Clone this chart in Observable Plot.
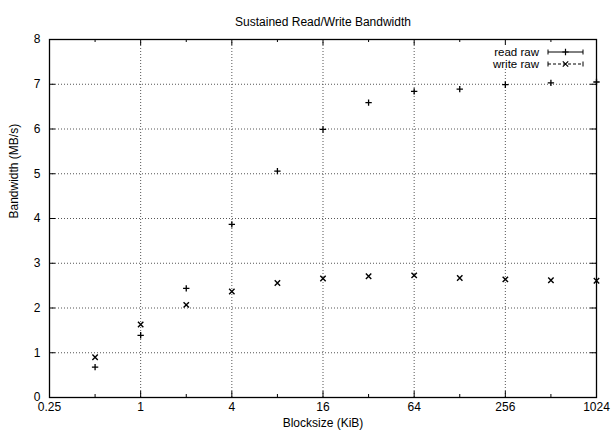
<!DOCTYPE html>
<html><head><meta charset="utf-8">
<script src="https://cdn.jsdelivr.net/npm/d3@7"></script>
<script src="https://cdn.jsdelivr.net/npm/@observablehq/plot@0.6"></script>
<style>body{margin:0;background:#fff}</style>
</head><body><div id="chart"></div>
<script>
const blocksizes = [0.5, 1, 2, 4, 8, 16, 32, 64, 128, 256, 512, 1024];
const readRaw  = [0.68, 1.39, 2.44, 3.87, 5.06, 5.99, 6.59, 6.84, 6.89, 6.99, 7.03, 7.05];
const writeRaw = [0.90, 1.63, 2.07, 2.37, 2.56, 2.66, 2.71, 2.73, 2.67, 2.64, 2.62, 2.61];
const xTicks = [0.25, 1, 4, 16, 64, 256, 1024];
const xMinorTicks = [0.5, 2, 8, 32, 128, 512];
const yTicks = [0, 1, 2, 3, 4, 5, 6, 7, 8];
const title = "Sustained Read/Write Bandwidth";
const xLabel = "Blocksize (KiB)";
const yLabel = "Bandwidth (MB/s)";
const seriesNames = ["read raw", "write raw"];

const FONT = "'Liberation Sans', Arial, Helvetica, sans-serif";
const W = 611, H = 432, mL = 49, mR = 15, mT = 39, mB = 35;
const iw = W - mL - mR, ih = H - mT - mB;
const rows = blocksizes.map((b, i) => ({b, read: readRaw[i], write: writeRaw[i]}));
const gridStyle = {stroke: "#555", strokeOpacity: 1, strokeDasharray: "1,2", strokeWidth: 1};

function legendBlank(index, scales, values, dims) {
  const right = dims.width - dims.marginRight;
  const g = d3.create("svg:g");
  g.append("rect").attr("x", right - 108).attr("y", dims.marginTop + 1)
    .attr("width", 106).attr("height", 29).attr("fill", "white");
  return g.node();
}

function legend(index, scales, values, dims) {
  const right = dims.width - dims.marginRight;
  const top = dims.marginTop;
  const g = d3.create("svg:g").attr("font-family", FONT).attr("font-size", 11.5).attr("fill", "black");
  const syms = [d3.symbol(d3.symbolPlus, 15.3), d3.symbol(d3.symbolTimes, 20.7)];
  seriesNames.forEach((name, i) => {
    const y = top + 13 + i * 12;
    g.append("text").attr("x", right - 57).attr("y", y).attr("dy", "0.32em")
      .attr("text-anchor", "end").text(name);
    const x1 = right - 48, x2 = right - 13, xc = (x1 + x2) / 2;
    const s = g.append("g").attr("stroke", "black").attr("fill", "none").attr("stroke-width", 1);
    s.append("line").attr("x1", x1).attr("x2", x2).attr("y1", y).attr("y2", y)
      .attr("stroke-dasharray", i === 1 ? "3,2" : null);
    s.append("line").attr("x1", x1).attr("x2", x1).attr("y1", y - 2.5).attr("y2", y + 2.5);
    s.append("line").attr("x1", x2).attr("x2", x2).attr("y1", y - 2.5).attr("y2", y + 2.5);
    s.append("path").attr("d", syms[i]()).attr("transform", `translate(${xc},${y})`)
      .attr("stroke-width", 1.2).attr("fill", "white");
  });
  return g.node();
}

const chart = Plot.plot({
  width: W, height: H,
  marginLeft: mL, marginRight: mR, marginTop: mT, marginBottom: mB,
  style: {fontFamily: FONT, fontSize: "12px", background: "white", color: "black", overflow: "visible"},
  x: {type: "log", base: 2, domain: [0.25, 1024], ticks: xTicks, tickFormat: d => String(d), tickSize: 0, tickPadding: 5, label: null},
  y: {domain: [0, 8], ticks: yTicks, tickSize: 0, tickPadding: 9, label: null},
  marks: [
    Plot.ruleX(xTicks.slice(1, -1), gridStyle),
    Plot.ruleY(yTicks.slice(1, -1), gridStyle),
    legendBlank,
    Plot.tickX(xTicks, {x: d => d, insetTop: ih - 6, stroke: "black"}),
    Plot.tickX(xTicks, {x: d => d, insetBottom: ih - 6, stroke: "black"}),
    Plot.tickX(xMinorTicks, {x: d => d, insetTop: ih - 3, stroke: "black"}),
    Plot.tickX(xMinorTicks, {x: d => d, insetBottom: ih - 3, stroke: "black"}),
    Plot.tickY(yTicks, {y: d => d, insetRight: iw - 6, stroke: "black"}),
    Plot.tickY(yTicks, {y: d => d, insetLeft: iw - 6, stroke: "black"}),
    Plot.frame({stroke: "black", strokeWidth: 1.3}),
    Plot.dot(rows, {x: "b", y: "read", symbol: "plus", r: 2.2, stroke: "black", strokeWidth: 1.3}),
    Plot.dot(rows, {x: "b", y: "write", symbol: "times", r: 2.57, stroke: "black", strokeWidth: 1.4}),
    legend,
    Plot.text([title], {frameAnchor: "top", dy: -17, lineAnchor: "middle", fontSize: 12}),
    Plot.text([xLabel], {frameAnchor: "bottom", dy: 26, lineAnchor: "middle", fontSize: 12}),
    Plot.text([yLabel], {frameAnchor: "left", dx: -35, rotate: -90, lineAnchor: "middle", fontSize: 12})
  ]
});
document.getElementById("chart").appendChild(chart);
</script>
</body></html>
